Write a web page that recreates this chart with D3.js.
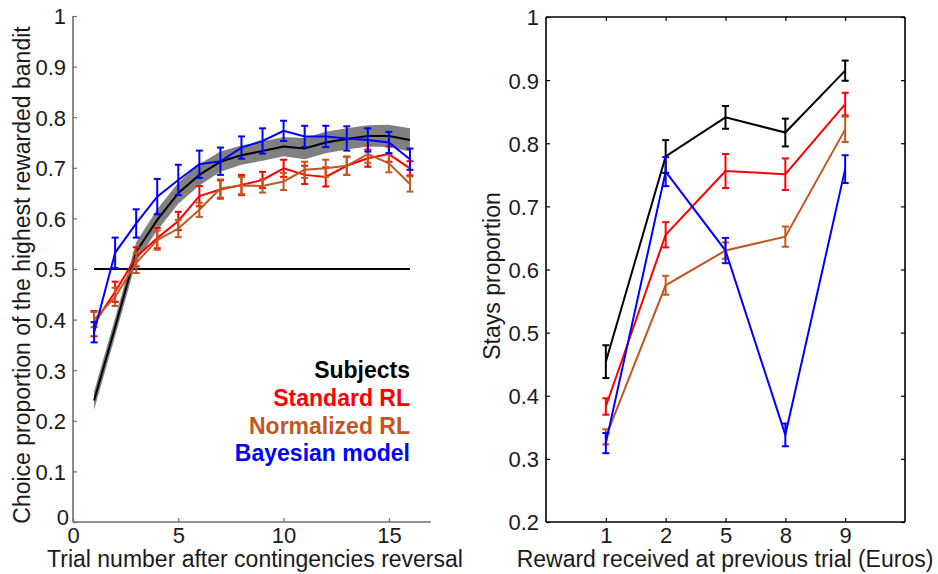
<!DOCTYPE html>
<html>
<head>
<meta charset="utf-8">
<script src="https://cdn.jsdelivr.net/npm/d3@7"></script>
<style>
  html, body { margin: 0; padding: 0; background: #fff; }
  svg { display: block; font-family: "Liberation Sans", Arial, Helvetica, sans-serif; }
</style>
</head>
<body>
<svg id="chart" width="938" height="574"></svg>
<script>
// ---- Left panel: learning curves after contingency reversal ----
const trials = [1, 2, 3, 4, 5, 6, 7, 8, 9, 10, 11, 12, 13, 14, 15, 16];
const subjectsCurve = [0.240, 0.385, 0.534, 0.597, 0.650, 0.686, 0.712, 0.725, 0.733, 0.742, 0.738, 0.750, 0.757, 0.763, 0.763, 0.755];
const subjectsCurveSE = [0.018, 0.018, 0.019, 0.021, 0.021, 0.021, 0.02, 0.019, 0.019, 0.019, 0.021, 0.021, 0.021, 0.021, 0.022, 0.023];
const standardCurve = [0.392, 0.455, 0.524, 0.561, 0.595, 0.644, 0.657, 0.666, 0.676, 0.699, 0.686, 0.682, 0.704, 0.719, 0.727, 0.699];
const standardCurveSE = [0.025, 0.02, 0.019, 0.02, 0.018, 0.02, 0.018, 0.02, 0.016, 0.017, 0.018, 0.019, 0.018, 0.017, 0.015, 0.014];
const normalizedCurve = [0.400, 0.445, 0.512, 0.557, 0.580, 0.617, 0.659, 0.665, 0.664, 0.673, 0.696, 0.699, 0.704, 0.727, 0.709, 0.668];
const normalizedCurveSE = [0.015, 0.018, 0.02, 0.019, 0.017, 0.014, 0.018, 0.017, 0.013, 0.017, 0.016, 0.017, 0.018, 0.017, 0.018, 0.015];
const bayesCurve = [0.375, 0.532, 0.590, 0.643, 0.676, 0.707, 0.713, 0.740, 0.753, 0.773, 0.762, 0.762, 0.758, 0.755, 0.750, 0.717];
const bayesCurveSE = [0.02, 0.03, 0.028, 0.035, 0.03, 0.027, 0.027, 0.022, 0.025, 0.02, 0.021, 0.021, 0.024, 0.023, 0.021, 0.021];
const chanceLevel = 0.5;
const leftYTicks = [0, 0.1, 0.2, 0.3, 0.4, 0.5, 0.6, 0.7, 0.8, 0.9, 1];
const leftXTicks = [0, 5, 10, 15];

// ---- Right panel: stay proportion by previous reward ----
const rewards = ["1", "2", "5", "8", "9"];
const staysSubjects = [0.454, 0.779, 0.841, 0.817, 0.915];
const staysSubjectsSE = [0.026, 0.026, 0.018, 0.022, 0.016];
const staysStandard = [0.383, 0.655, 0.756, 0.751, 0.862];
const staysStandardSE = [0.013, 0.02, 0.027, 0.025, 0.018];
const staysNormalized = [0.335, 0.575, 0.630, 0.652, 0.822];
const staysNormalizedSE = [0.012, 0.015, 0.013, 0.016, 0.02];
const staysBayes = [0.325, 0.755, 0.630, 0.338, 0.759];
const staysBayesSE = [0.016, 0.023, 0.02, 0.018, 0.022];
const rightYTicks = [0.2, 0.3, 0.4, 0.5, 0.6, 0.7, 0.8, 0.9, 1];

const legendNames = ["Subjects", "Standard RL", "Normalized RL", "Bayesian model"];
const colors = { subjects: "#000000", standard: "#ff0000", normalized: "#c2571f", bayes: "#0000ff" };

const svg = d3.select("#chart");
const textColor = "#1a1a1a";
const tickFont = 22;
const titleFont = 23;

// ===== Left panel =====
const xL = d3.scaleLinear().domain([0, 17]).range([73, 431]);
const yL = d3.scaleLinear().domain([0, 1]).range([522, 16]);
const left = svg.append("g");

// axes (gray, ticks pointing inward)
const axisGray = "#6e6e6e";
const yAxisL = left.append("g").attr("transform", `translate(${xL(0)},0)`)
  .call(d3.axisLeft(yL).tickValues(leftYTicks).tickSize(-4).tickFormat(d => d3.format("~g")(d)).tickPadding(7));
const xAxisL = left.append("g").attr("transform", `translate(0,${yL(0)})`)
  .call(d3.axisBottom(xL).tickValues(leftXTicks).tickSize(-4).tickFormat(d3.format("d")).tickPadding(7));
[yAxisL, xAxisL].forEach(a => {
  a.select(".domain").attr("stroke", axisGray).attr("stroke-width", 1.6);
  a.selectAll(".tick line").attr("stroke", axisGray).attr("stroke-width", 1.2);
  a.selectAll("text").attr("font-size", tickFont).attr("fill", textColor)
    .attr("font-family", "Liberation Sans, Arial, sans-serif");
});
yAxisL.select(".domain").attr("d", `M-0,${yL(1)}H0V${yL(0)}H0`);
xAxisL.select(".domain").attr("d", `M${xL(0)},0H${xL(17)}`);
yAxisL.selectAll(".tick text").attr("dy", "0.36em");
// the zero label sits a little lower and further left at the axis corner
yAxisL.selectAll(".tick").filter(d => d === 0).select("text").attr("dy", "0.1em").attr("x", -4);
xAxisL.selectAll(".tick text").attr("dy", "0.62em");

// subjects' SE band
const bandArea = d3.area()
  .x((d, i) => xL(trials[i]))
  .y0((d, i) => yL(subjectsCurve[i] - subjectsCurveSE[i]))
  .y1((d, i) => yL(subjectsCurve[i] + subjectsCurveSE[i]));
left.append("path").datum(subjectsCurve).attr("d", bandArea).attr("fill", "#808080");

// chance line
left.append("line")
  .attr("x1", xL(trials[0])).attr("x2", xL(trials[trials.length - 1]))
  .attr("y1", yL(chanceLevel)).attr("y2", yL(chanceLevel))
  .attr("stroke", "#000").attr("stroke-width", 1.8);

const lineL = d3.line().x((d, i) => xL(trials[i])).y(d => yL(d));

function errorBars(g, yScale, xs, ys, es, color, capW) {
  const eb = g.append("g").attr("stroke", color).attr("stroke-width", 2).attr("fill", "none");
  ys.forEach((v, i) => {
    const x = xs[i];
    const t = yScale(v + es[i]);
    const b = yScale(v - es[i]);
    eb.append("line").attr("x1", x).attr("x2", x).attr("y1", t).attr("y2", b);
    eb.append("line").attr("x1", x - capW).attr("x2", x + capW).attr("y1", t).attr("y2", t);
    eb.append("line").attr("x1", x - capW).attr("x2", x + capW).attr("y1", b).attr("y2", b);
  });
}

left.append("path").datum(subjectsCurve).attr("d", lineL)
  .attr("fill", "none").attr("stroke", colors.subjects).attr("stroke-width", 2);

const leftSeries = [
  { v: standardCurve, e: standardCurveSE, c: colors.standard },
  { v: normalizedCurve, e: normalizedCurveSE, c: colors.normalized },
  { v: bayesCurve, e: bayesCurveSE, c: colors.bayes }
];
leftSeries.forEach(s => {
  left.append("path").datum(s.v).attr("d", lineL)
    .attr("fill", "none").attr("stroke", s.c).attr("stroke-width", 2);
  errorBars(left, yL, trials.map(t => xL(t)), s.v, s.e, s.c, 3.5);
});

// legend
const legendColors = [colors.subjects, colors.standard, colors.normalized, colors.bayes];
const legendY = [378, 406, 434, 461];
legendNames.forEach((name, i) => {
  left.append("text").attr("x", 410).attr("y", legendY[i])
    .attr("text-anchor", "end").attr("font-size", 23).attr("font-weight", "bold")
    .attr("fill", legendColors[i]).text(name);
});

// axis titles
left.append("text").attr("x", 255).attr("y", 567).attr("text-anchor", "middle")
  .attr("font-size", titleFont).attr("fill", textColor).text("Trial number after contingencies reversal");
left.append("text").attr("transform", `translate(30,${(yL(0) + yL(1)) / 2 + 6}) rotate(-90)`)
  .attr("text-anchor", "middle").attr("font-size", titleFont).attr("fill", textColor)
  .text("Choice proportion of the highest rewarded bandit");

// ===== Right panel =====
const xR = d3.scalePoint().domain(rewards).range([546, 905]).padding(1);
const yR = d3.scaleLinear().domain([0.2, 1]).range([522, 17]);
const right = svg.append("g");

const boxAxes = [
  right.append("g").attr("transform", `translate(546,0)`)
    .call(d3.axisLeft(yR).tickValues(rightYTicks).tickSize(-4).tickFormat(d3.format("~g")).tickPadding(7)),
  right.append("g").attr("transform", `translate(905,0)`)
    .call(d3.axisRight(yR).tickValues(rightYTicks).tickSize(-4).tickFormat("")),
  right.append("g").attr("transform", `translate(0,522)`)
    .call(d3.axisBottom(xR).tickSize(-4).tickPadding(7)),
  right.append("g").attr("transform", `translate(0,17)`)
    .call(d3.axisTop(xR).tickSize(-4).tickFormat(""))
];
boxAxes.forEach(a => {
  a.select(".domain").attr("stroke", "#000").attr("stroke-width", 1.6);
  a.selectAll(".tick line").attr("stroke", "#000").attr("stroke-width", 1.2);
  a.selectAll("text").attr("font-size", tickFont).attr("fill", textColor)
    .attr("font-family", "Liberation Sans, Arial, sans-serif");
});
boxAxes[0].selectAll(".tick text").attr("dy", "0.36em");
boxAxes[2].selectAll(".tick text").attr("dy", "0.62em");
boxAxes[0].select(".domain").attr("d", `M0,${yR(1)}V${yR(0.2)}`);
boxAxes[1].select(".domain").attr("d", `M0,${yR(1)}V${yR(0.2)}`);
boxAxes[2].select(".domain").attr("d", `M546,0H905`);
boxAxes[3].select(".domain").attr("d", `M546,0H905`);

const lineR = d3.line().x((d, i) => xR(rewards[i])).y(d => yR(d));
const rightSeries = [
  { v: staysSubjects, e: staysSubjectsSE, c: colors.subjects },
  { v: staysStandard, e: staysStandardSE, c: colors.standard },
  { v: staysNormalized, e: staysNormalizedSE, c: colors.normalized },
  { v: staysBayes, e: staysBayesSE, c: colors.bayes }
];
rightSeries.forEach(s => {
  right.append("path").datum(s.v).attr("d", lineR)
    .attr("fill", "none").attr("stroke", s.c).attr("stroke-width", 2);
  errorBars(right, yR, rewards.map(r => xR(r)), s.v, s.e, s.c, 3.5);
});

right.append("text").attr("x", 725).attr("y", 567).attr("text-anchor", "middle")
  .attr("font-size", titleFont).attr("fill", textColor).text("Reward received at previous trial (Euros)");
right.append("text").attr("transform", `translate(500,276) rotate(-90)`)
  .attr("text-anchor", "middle").attr("font-size", titleFont).attr("fill", textColor)
  .text("Stays proportion");
</script>
</body>
</html>
